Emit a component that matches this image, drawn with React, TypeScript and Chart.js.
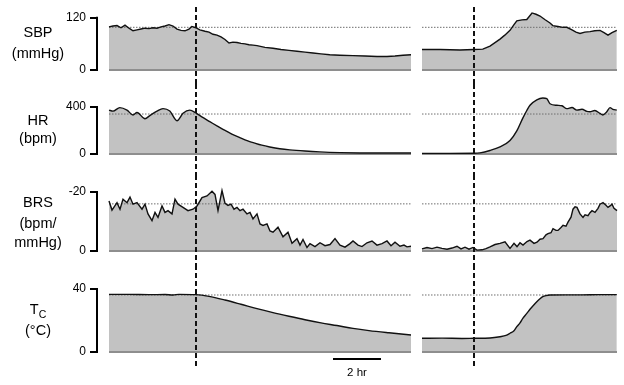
import React, { useEffect, useRef } from 'react';
import { Chart, registerables } from 'chart.js';
Chart.register(...registerables);

// Time in minutes. Left panel: from recording start. Right panel: from its own start.
const SBP_L_T = [0,10,20,30,40,50,60,70,80,90,100,110,120,130,140,150,160,170,180,190,200,207,217,227,240,250,260,270,280,290,300,310,320,330,340,350,360,370,390,410,430,450,470,490,510,530,552,577,610,640,670,695,715,735,755];
const SBP_L_V = [99,101,102,97,103,96,90,92,94,96,95,97,96,99,101,104,101,94,91,90,94,100,97,92,89,87,82,80,76,70,62,64,63,61,60,58,57,56,52,50,47,45,43,41,39,37,35,34,33,32,31,31,32,34,35];
const SBP_R_T = [0,45,95,130,152,170,195,207,220,230,237,250,262,275,285,295,307,320,327,340,352,362,375,385,395,407,420,432,445,455,465,475,487];
const SBP_R_V = [47,47,46,47,48,55,71,80,91,104,113,115,116,131,128,124,116,108,102,100,98,98,92,87,84,87,88,90,91,86,80,86,91];

const HR_L_T = [0,10,27,45,60,70,90,102,120,135,152,170,185,202,217,232,252,272,290,307,327,347,365,382,402,427,452,490,527,577,627,690,755];
const HR_L_V = [373,365,394,373,332,353,300,327,365,386,365,283,346,373,350,315,275,235,200,170,140,112,92,75,60,45,35,25,18,12,9,8,8];
const HR_R_T = [0,70,130,145,170,195,220,237,252,262,270,287,302,312,320,337,350,362,375,387,400,412,420,432,445,452,462,470,477,487];
const HR_R_V = [5,5,6,10,30,60,114,196,305,370,414,460,476,470,427,414,410,386,395,373,380,362,359,370,345,332,360,394,380,373];

const BRS_L_T = [0,7.5,20,27.5,35,45,52.5,60,70,82.5,90,97.5,107.5,115,122.5,132.5,140,147.5,157.5,165,172.5,185,197.5,210,220,232.5,245,257.5,265,272.5,282.5,290,297.5,305,312.5,320,327.5,335,345,352.5,360,370,377.5,385,395,402.5,410,422.5,435,447.5,457.5,470,477.5,485,495,502.5,515,527.5,540,552.5,565,577.5,590,602.5,610,622.5,632.5,645,657.5,670,682.5,695,705,715,727.5,737.5,745,755];
const BRS_L_V = [-17,-13.9,-16.4,-14.2,-17.6,-16.4,-18.3,-15.9,-16.4,-14.2,-15.9,-12.6,-10.3,-13.1,-11.4,-15.3,-13.1,-13.7,-12.6,-17.6,-15.9,-14.8,-13.7,-14.2,-15.3,-18.1,-18.7,-20.3,-19.2,-13.7,-20.5,-16.2,-15.5,-15.9,-14.2,-14.8,-13.7,-14.2,-12.6,-13.1,-10.9,-12.6,-9.2,-8.7,-9.2,-6.8,-6.4,-8.1,-4.8,-6.4,-2.6,-4.2,-2,-3.9,-1.2,-2.5,-1.5,-2.8,-1.8,-2.2,-4.2,-2,-1.3,-2.5,-3.4,-2,-1.5,-2.8,-3.4,-2,-2.5,-3.4,-1.8,-3,-1.6,-2,-1.4,-1.6];
const BRS_R_T = [0,12.5,25,37.5,50,62.5,75,87.5,97.5,107.5,117.5,127.5,137.5,150,160,170,182.5,195,207.5,220,230,237.5,245,252.5,262.5,270,280,287.5,295,302.5,310,315,322.5,327.5,335,340,347.5,352.5,360,365,372.5,377.5,382.5,387.5,395,402.5,407.5,415,420,425,432.5,440,445,452.5,460,465,470,475,480,487.5];
const BRS_R_V = [-0.7,-1.2,-0.8,-1.3,-0.9,-0.6,-1,-1.6,-0.7,-1.3,-0.6,-1.2,-0.3,-0.4,-0.8,-1.4,-2.2,-2.6,-3.1,-0.9,-2.6,-1.5,-2.8,-2,-3.2,-3.7,-2.6,-3,-4,-4.2,-5.5,-5.9,-6.2,-7.6,-7,-7,-8,-8.7,-8.4,-9.8,-11.5,-14.2,-15,-14.8,-12.6,-11.4,-12.3,-12,-13,-13.7,-13.1,-14.5,-15.9,-16.4,-15.5,-14.8,-15.3,-15.9,-14.5,-13.7];

const TC_L_T = [0,50,100,140,160,175,217,250,290,330,370,410,450,490,530,570,610,650,700,755];
const TC_L_V = [36.6,36.6,36.4,36.5,36.2,36.6,36.4,35.3,33,30.3,27.5,25,22.7,20.5,18.5,16.8,15,13.6,12.2,10.8];
const TC_R_T = [0,50,100,130,170,195,210,220,230,237,245,252,262,270,280,287,295,302,310,320,360,400,440,487];
const TC_R_V = [8.7,8.8,8.6,8.7,8.9,9.7,10.5,11.9,13.5,16.1,18.5,21.4,24.5,27.1,30,31.9,33.8,35.1,35.8,36.2,36.3,36.3,36.4,36.4];

// Reference (baseline) levels, dotted
const SBP_REF = 98;
const HR_REF = 340;
const BRS_REF = -16;
const TC_REF = 36.2;

// Tick labels
const SBP_TICKS = [0, 120];
const HR_TICKS = [0, 400];
const BRS_TICKS = [-20, 0];
const TC_TICKS = [0, 40];

// Panel timing (minutes)
const LEFT_END = 755;
const RIGHT_OFFSET = 782.5;
const RIGHT_END = 487.5;
const EVENT_L = 217.5;
const EVENT_R = 128.75;
const SCALE_BAR = [560, 680];
const X_MIN = -30;
const X_MAX = 1270;

const FONT = '"Liberation Sans", Arial, Helvetica, sans-serif';

type RowCfg = {
  key: string;
  lt: number[]; lv: number[]; rt: number[]; rv: number[];
  ref: number; ticks: number[];
  min: number; max: number; reverse: boolean;
  yZero: number; yTick: number; top: number; h: number;
  dashFrom: number; dashTo: number;
  tension: number;
  scaleBar?: boolean;
};

const ROWS: RowCfg[] = [
  { key: 'sbp', lt: SBP_L_T, lv: SBP_L_V, rt: SBP_R_T, rv: SBP_R_V, ref: SBP_REF, ticks: SBP_TICKS,
    min: 0, max: 135, reverse: false, yZero: 70, yTick: 15, top: 0, h: 84, dashFrom: 7, dashTo: 84, tension: 0 },
  { key: 'hr', lt: HR_L_T, lv: HR_L_V, rt: HR_R_T, rv: HR_R_V, ref: HR_REF, ticks: HR_TICKS,
    min: 0, max: 500, reverse: false, yZero: 154, yTick: 105, top: 84, h: 91, dashFrom: 0, dashTo: 91, tension: 0.25 },
  { key: 'brs', lt: BRS_L_T, lv: BRS_L_V, rt: BRS_R_T, rv: BRS_R_V, ref: BRS_REF, ticks: BRS_TICKS,
    min: -22, max: 0, reverse: true, yZero: 251, yTick: 191, top: 175, h: 90, dashFrom: 0, dashTo: 90, tension: 0 },
  { key: 'tc', lt: TC_L_T, lv: TC_L_V, rt: TC_R_T, rv: TC_R_V, ref: TC_REF, ticks: TC_TICKS,
    min: 0, max: 40, reverse: false, yZero: 352, yTick: 289, top: 265, h: 120, dashFrom: 0, dashTo: 103, tension: 0.4, scaleBar: true },
];

const pts = (t: number[], v: number[], off = 0) => t.map((x, i) => ({ x: x + off, y: v[i] }));

function RowChart({ cfg }: { cfg: RowCfg }) {
  const ref = useRef<HTMLCanvasElement>(null);
  useEffect(() => {
    if (!ref.current) return;
    const tickSpan = Math.abs(cfg.ticks[1] - cfg.ticks[0]);
    const span = cfg.max - cfg.min;
    const chartTop = cfg.yZero - (cfg.yZero - cfg.yTick) * span / tickSpan;
    const padTop = chartTop - cfg.top;
    const padBottom = cfg.top + cfg.h - cfg.yZero;
    const L = pts(cfg.lt, cfg.lv);
    const R = pts(cfg.rt, cfg.rv, RIGHT_OFFSET);
    const base = (a: number, b: number, y: number) => [{ x: a, y }, { x: b, y }];
    const common = { pointRadius: 0, clip: false as const, parsing: false as const };
    const fillDs = (data: any) => ({ ...common, data, borderWidth: 0, backgroundColor: '#c2c2c2', fill: 'origin', order: 5, tension: cfg.tension, cubicInterpolationMode: cfg.tension > 0 ? 'monotone' : 'default' });
    const lineDs = (data: any) => ({ ...common, data, borderWidth: 1.4, borderColor: '#111', fill: false, order: 1, tension: cfg.tension, cubicInterpolationMode: cfg.tension > 0 ? 'monotone' : 'default' });
    const baseDs = (data: any) => ({ ...common, data, borderWidth: 2, borderColor: '#8e8e8e', fill: false, order: 4 });
    const refDs = (data: any) => ({ ...common, data, borderWidth: 1, borderColor: '#6e6e6e', borderDash: [1.5, 1.5], fill: false, order: 3 });

    const overlay = {
      id: 'overlay_' + cfg.key,
      afterDraw(chart: any) {
        const { ctx, scales, chartArea } = chart;
        const x = scales.x, y = scales.y;
        ctx.save();
        ctx.strokeStyle = '#000';
        ctx.lineWidth = 2;
        const ya = y.getPixelForValue(cfg.ticks[0]);
        const yb = y.getPixelForValue(cfg.ticks[1]);
        ctx.beginPath();
        ctx.moveTo(chartArea.left, Math.min(ya, yb) - 1);
        ctx.lineTo(chartArea.left, Math.max(ya, yb) + 1);
        ctx.stroke();
        ctx.setLineDash([5, 3]);
        ctx.strokeStyle = '#111';
        for (const t of [EVENT_L, RIGHT_OFFSET + EVENT_R]) {
          const px = Math.round(x.getPixelForValue(t));
          ctx.beginPath();
          ctx.moveTo(px, cfg.dashFrom);
          ctx.lineTo(px, cfg.dashTo);
          ctx.stroke();
        }
        if (cfg.scaleBar) {
          ctx.setLineDash([]);
          ctx.strokeStyle = '#000';
          ctx.lineWidth = 2;
          const yy = 359 - cfg.top;
          ctx.beginPath();
          ctx.moveTo(x.getPixelForValue(SCALE_BAR[0]), yy);
          ctx.lineTo(x.getPixelForValue(SCALE_BAR[1]), yy);
          ctx.stroke();
        }
        ctx.restore();
      },
    };

    const chart = new Chart(ref.current, {
      type: 'line',
      data: {
        datasets: [
          fillDs(L), fillDs(R),
          baseDs(base(0, LEFT_END, 0)), baseDs(base(RIGHT_OFFSET, RIGHT_OFFSET + RIGHT_END, 0)),
          refDs(base(0, LEFT_END, cfg.ref)), refDs(base(RIGHT_OFFSET, RIGHT_OFFSET + RIGHT_END, cfg.ref)),
          lineDs(L), lineDs(R),
        ] as any,
      },
      options: {
        animation: false,
        responsive: false,
        maintainAspectRatio: false,
        events: [],
        layout: { autoPadding: false, padding: { left: 0, right: 7, top: padTop, bottom: padBottom } } as any,
        plugins: { legend: { display: false }, tooltip: { enabled: false } },
        scales: {
          x: { type: 'linear', min: X_MIN, max: X_MAX, display: false },
          y: {
            type: 'linear',
            min: cfg.min, max: cfg.max, reverse: cfg.reverse,
            afterBuildTicks: (s: any) => { s.ticks = cfg.ticks.map((v) => ({ value: v })); },
            afterFit: (s: any) => { s.width = 97; },
            border: { display: false },
            grid: { drawOnChartArea: false, drawTicks: true, tickLength: 7, color: '#000', lineWidth: 2 },
            ticks: { color: '#000', padding: 4, autoSkip: false, font: { family: FONT, size: 12 }, callback: (v: any) => String(v) },
          },
        },
      } as any,
      plugins: [overlay],
    });
    return () => chart.destroy();
  }, [cfg]);
  return (
    <canvas ref={ref} width={624} height={cfg.h}
      style={{ position: 'absolute', left: 0, top: cfg.top, width: 624, height: cfg.h }} />
  );
}

const LABELS: { text: React.ReactNode; cy: number }[] = [
  { text: 'SBP', cy: 32 },
  { text: '(mmHg)', cy: 53 },
  { text: 'HR', cy: 120 },
  { text: '(bpm)', cy: 138 },
  { text: 'BRS', cy: 202 },
  { text: '(bpm/', cy: 223 },
  { text: 'mmHg)', cy: 242 },
  { text: <span>T<span style={{ fontSize: 10.5, position: 'relative', top: 4 }}>C</span></span>, cy: 309 },
  { text: '(°C)', cy: 330 },
];

export default function App() {
  return (
    <div style={{ position: 'absolute', left: 0, top: 0, width: 624, height: 385, background: '#fff', overflow: 'hidden', fontFamily: FONT }}>
      {ROWS.map((r) => <RowChart key={r.key} cfg={r} />)}
      {LABELS.map((l, i) => (
        <div key={i} style={{ position: 'absolute', left: 0, width: 76, top: l.cy - 9, height: 18, lineHeight: '18px', textAlign: 'center', fontSize: 14.5, color: '#000' }}>{l.text}</div>
      ))}
      <div style={{ position: 'absolute', left: 327, width: 60, top: 364, height: 16, lineHeight: '16px', textAlign: 'center', fontSize: 11.5, color: '#000' }}>2 hr</div>
    </div>
  );
}
